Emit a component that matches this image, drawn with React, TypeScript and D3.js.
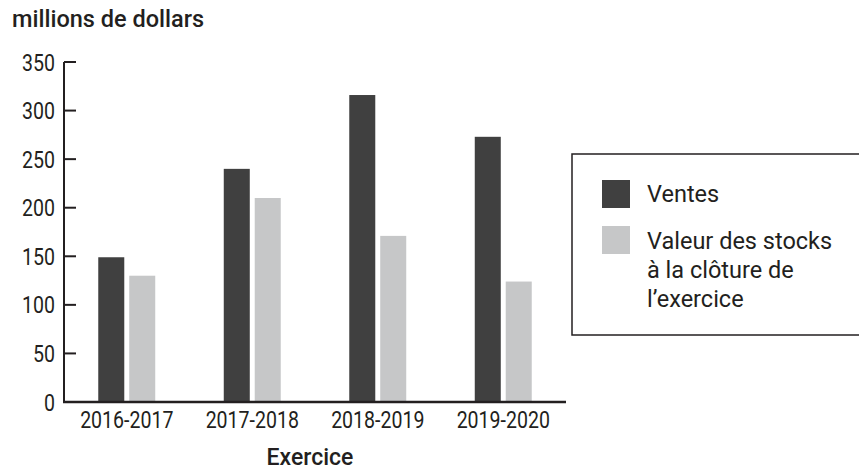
import React from "react";
import * as d3 from "d3";

const categories = ["2016-2017", "2017-2018", "2018-2019", "2019-2020"];
const seriesNames = ["Ventes", "Valeur des stocks à la clôture de l’exercice"];
const ventes = [149, 240, 316, 273];
const stocks = [130, 210, 171, 124];
const yTicks = [0, 50, 100, 150, 200, 250, 300, 350];
const legendLines = [["Ventes"], ["Valeur des stocks", "à la clôture de", "l’exercice"]];

const W = 859;
const H = 470;
const colors = ["#404040", "#c6c7c8"];
const ink = "#231f20";

export default function App() {
  const x0 = d3.scaleBand<string>().domain(categories).range([64, 566]).paddingInner(0.546).paddingOuter(0.273);
  const x1 = d3.scaleBand<string>().domain(["v", "s"]).range([0, x0.bandwidth()]).paddingInner(0.16);
  const y = d3.scaleLinear().domain([0, 350]).range([402, 62]);
  const series = [ventes, stocks];
  const keys = ["v", "s"];
  const condensed = 0.85;
  return (
    <svg width={W} height={H} style={{ position: "absolute", left: 0, top: 0, background: "#fff" }}>
      <text x={12} y={27} fontFamily="Roboto" fontWeight={500} fontSize={23.5} fill={ink}>
        millions de dollars
      </text>
      {series.map((vals, si) =>
        vals.map((v, i) => (
          <rect
            key={`${si}-${i}`}
            x={(x0(categories[i]) as number) + (x1(keys[si]) as number)}
            y={y(v)}
            width={x1.bandwidth()}
            height={y(0) - y(v)}
            fill={colors[si]}
          />
        ))
      )}
      {/* y axis */}
      <line x1={64} x2={64} y1={y(350)} y2={y(0)} stroke={ink} strokeWidth={2} />
      {yTicks.map((t) => (
        <g key={t}>
          <line x1={64} x2={76} y1={y(t)} y2={y(t)} stroke={ink} strokeWidth={2} />
          <text
            transform={`translate(55,${y(t) + 8.5}) scale(${condensed},1)`}
            textAnchor="end"
            fontFamily="Roboto"
            fontSize={23}
            fill={ink}
          >
            {t}
          </text>
        </g>
      ))}
      <line x1={63} x2={566} y1={y(0)} y2={y(0)} stroke={ink} strokeWidth={2.5} />
      {categories.map((c) => (
        <text
          key={c}
          transform={`translate(${(x0(c) as number) + x0.bandwidth() / 2},428) scale(${condensed},1)`}
          textAnchor="middle"
          fontFamily="Roboto"
          fontSize={23}
          fill={ink}
        >
          {c}
        </text>
      ))}
      <text x={310} y={465} textAnchor="middle" fontFamily="Roboto" fontWeight={500} fontSize={23} fill={ink}>
        Exercice
      </text>
      {/* legend */}
      <rect x={572} y={154} width={300} height={181} fill="none" stroke={ink} strokeWidth={1.5} />
      {legendLines.map((lines, li) => (
        <g key={li}>
          <rect x={602} y={li === 0 ? 180 : 226} width={28} height={28} fill={colors[li]} />
          {lines.map((ln, k) => (
            <text key={k} x={647} y={(li === 0 ? 201.5 : 248.5) + k * 29} fontFamily="Roboto" fontSize={23.5} fill={ink}>
              {ln}
            </text>
          ))}
        </g>
      ))}
    </svg>
  );
}
